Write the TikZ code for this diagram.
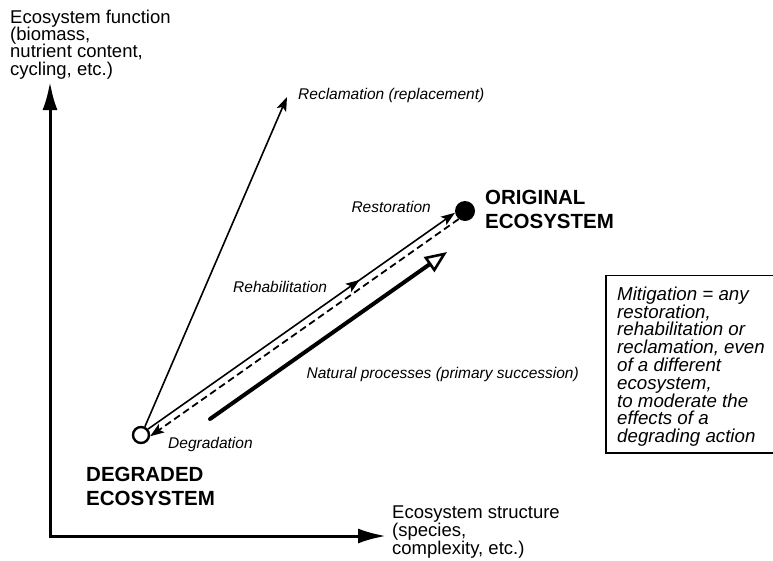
\documentclass[tikz,border=0pt]{standalone}
\usepackage{fontspec}
\setmainfont{Liberation Sans}
\usetikzlibrary{arrows.meta,decorations.markings}

\tikzset{
  axis/.style={line width=3pt, -{Latex[length=28pt,width=15pt]}},
  thin arrow/.style={line width=1.6pt, -{Stealth[length=14pt,width=10pt,inset=3pt]}},
  dashed arrow/.style={line width=1.8pt, dash pattern=on 7pt off 4pt,
    -{Stealth[length=14pt,width=10pt,inset=3pt]}},
  open arrow/.style={line width=4pt,
    -{Triangle[open,length=22pt,width=18pt,line width=2.6pt]}},
  axislabel/.style={font=\fontsize{18.5}{17.3}\selectfont, align=left, inner sep=0pt},
  lbl/.style={font=\fontsize{15.5}{16}\selectfont\itshape, inner sep=0pt},
  bigname/.style={font=\fontsize{20.5}{24}\selectfont\bfseries, align=left, inner sep=0pt},
  notetext/.style={font=\fontsize{18.7}{17.8}\selectfont\itshape, align=left, inner sep=0pt},
  state/.style={circle, inner sep=0pt},
}

\begin{document}
\begin{tikzpicture}[x=1pt, y=-1pt]
  \useasboundingbox (0,0) rectangle (773,560);

  % axes
  \coordinate (origin) at (50,536);
  \coordinate (ytip) at (50,82);
  \coordinate (xtip) at (386,536);
  \draw[axis] (50,537.5) -- (ytip);
  \draw[axis] (48.5,536) -- (xtip);

  \node[axislabel, anchor=north west] (ylab) at (10,9.5)
    {Ecosystem function\\(biomass,\\nutrient content,\\cycling, etc.)};
  \node[axislabel, anchor=north west, font=\fontsize{18.5}{16.4}\selectfont] (xlab) at (392,505.5)
    {Ecosystem structure\\(species,\\complexity, etc.)};

  % ecosystem states
  \node[state, draw, line width=2.4pt, minimum size=16pt] (deg) at (141,435) {};
  \node[state, fill, minimum size=20pt] (orig) at (465,211) {};

  \node[bigname, anchor=north west] (degname) at (86,467.3)
    {DEGRADED\\ECOSYSTEM};
  \node[bigname, anchor=north west] (origname) at (485,190.3)
    {ORIGINAL\\ECOSYSTEM};

  % pathways
  \coordinate (recl) at (287,97);
  \draw[thin arrow] (deg.65) -- (recl);
  \draw[thin arrow, postaction={decorate}, decoration={markings,
      mark=at position 0.69 with {\arrow{Stealth[length=14pt,width=10pt,inset=3pt]}}}]
    (deg.40) -- (orig.190);
  \draw[dashed arrow] (orig.232) -- (deg.-8);
  \coordinate (natA) at (210,419);
  \coordinate (natB) at (447,252);
  \draw[open arrow, line cap=round] (natA) -- (natB);

  % pathway labels
  \node[lbl, anchor=base west] (lrecl) at (298,99) {Reclamation (replacement)};
  \node[lbl, anchor=base east] (lrest) at (431,212) {Restoration};
  \node[lbl, anchor=base west] (lrehab) at (233,292) {Rehabilitation};
  \node[lbl, anchor=base east] (lnat) at (579,378) {Natural processes (primary succession)};
  \node[lbl, anchor=base west] (ldeg) at (168,448) {Degradation};

  % mitigation note
  \draw[line width=1.6pt] (780,275.5) -- (606,275.5) -- (606,453) -- (780,453);
  \node[notetext, anchor=north west] (note) at (617,286.5)
    {Mitigation = any\\restoration,\\rehabilitation or\\reclamation, even\\of a different\\ecosystem,\\to moderate the\\effects of a\\degrading action};
\end{tikzpicture}
\end{document}
